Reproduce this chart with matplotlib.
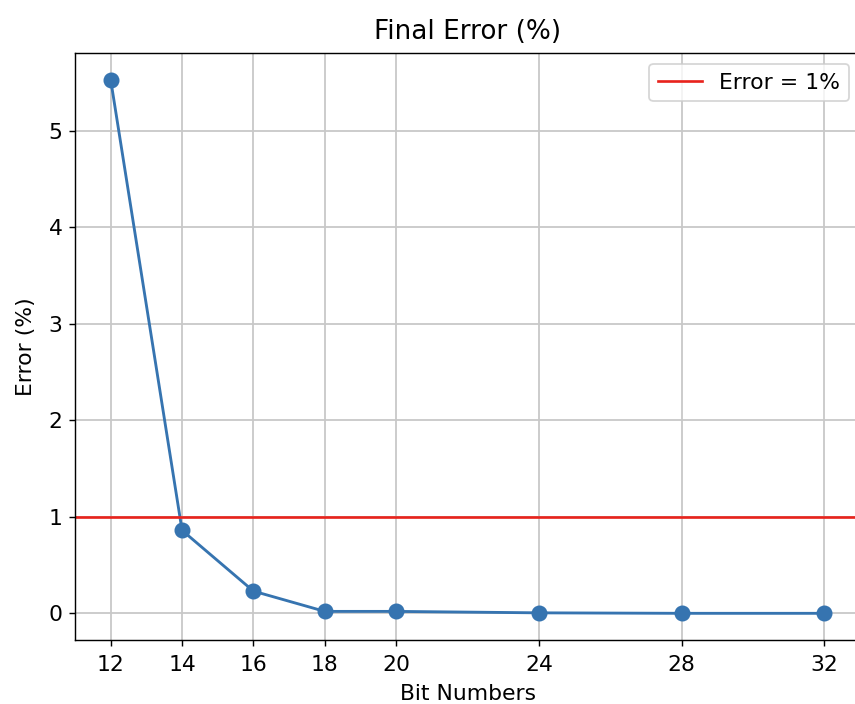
import matplotlib
matplotlib.use("Agg")
import matplotlib.pyplot as plt

# Quantization bit widths and the resulting final error
bit_numbers = [12, 14, 16, 18, 20, 24, 28, 32]
final_error = [5.53, 0.86, 0.23, 0.02, 0.02, 0.005, 0.0, 0.0]
threshold = 1.0

plt.rcParams["font.size"] = 12.3

fig = plt.figure(figsize=(855 / 128, 704 / 128), dpi=128)
ax = fig.add_axes([0.0877, 0.0909, 0.9183, 0.8338])

ax.plot(bit_numbers, final_error, marker="o", markersize=8,
        color="#3674b0", linewidth=1.6)
ax.axhline(threshold, color="#e8231c", linewidth=1.5, label="Error = 1%")

ax.set_xticks(bit_numbers)
ax.tick_params(axis="x", pad=5)
ax.set_xlabel("Bit Numbers", labelpad=5)
ax.set_ylabel("Error (%)", labelpad=7)
ax.set_title("Final Error (%)", pad=8)
ax.grid(True, color="#c8c8c8", linewidth=1.0)
ax.legend(loc="upper right")

fig.savefig("out.png", dpi=128)
